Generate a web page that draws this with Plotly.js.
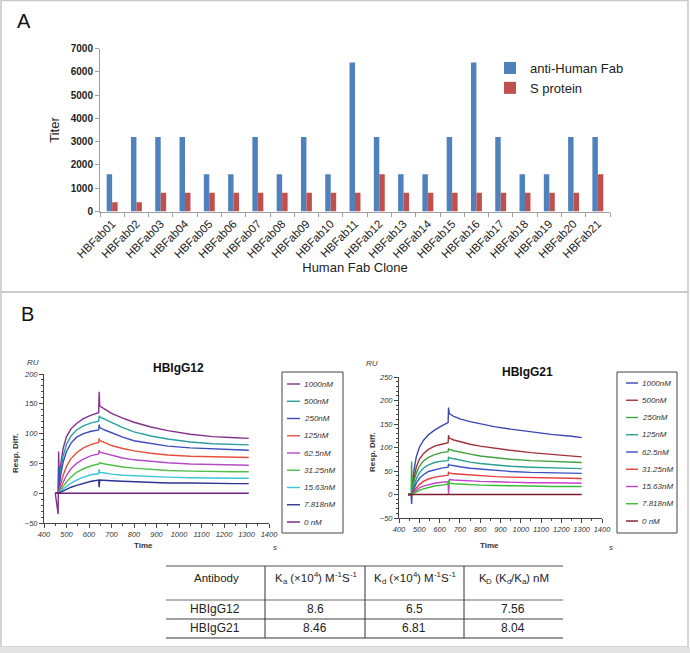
<!DOCTYPE html>
<html><head><meta charset="utf-8">
<script src="https://cdn.plot.ly/plotly-3.0.1.min.js"></script>
<style>html,body{margin:0;padding:0;background:#fff}#chart{width:690px;height:653px}</style>
</head><body><div id="chart"></div>
<script>
// ---------- Panel A data ----------
const clones = ['HBFab01','HBFab02','HBFab03','HBFab04','HBFab05','HBFab06','HBFab07','HBFab08','HBFab09','HBFab10','HBFab11','HBFab12','HBFab13','HBFab14','HBFab15','HBFab16','HBFab17','HBFab18','HBFab19','HBFab20','HBFab21'];
const antiHumanFab = [1600,3200,3200,3200,1600,1600,3200,1600,3200,1600,6400,3200,1600,1600,3200,6400,3200,1600,1600,3200,3200];
const sProtein = [400,400,800,800,800,800,800,800,800,800,800,1600,800,800,800,800,800,800,800,800,1600];

// ---------- Panel B data (sensorgrams) ----------
const concLabels = ['1000nM','500nM','250nM','125nM','62.5nM','31.25nM','15.63nM','7.818nM','0 nM'];
const time12 = [450,463,465,468,475,485,500,520,545,575,610,643,645,648,670,700,750,800,875,950,1050,1150,1250,1310];
const g12_1000 = [0,-35,70,20,50,75,95,108,117,125,131,135,170,146,141,134,126,119,111,105,99,95,93,92];
const g12_500  = [0,0,5,15,40,62,82,96,106,113,118,121,130,128,124,118,110,103,96,91,86,83,82,81];
const g12_250  = [0,0,45,12,32,52,70,84,94,100,104,106,115,110,106,101,94,88,83,79,76,74,73,72];
const g12_125  = [0,0,2,6,16,30,45,58,68,76,82,85,92,88,85,80,75,71,67,64,62,61,60,60];
const g12_62   = [0,0,1,4,10,19,30,41,50,57,63,66,72,69,67,63,59,56,53,51,49,48,47,47];
const g12_31   = [0,0,1,2,6,12,19,27,35,41,46,49,51,51,49,47,44,42,40,38,37,36,36,36];
const g12_15   = [0,0,1,2,4,8,12,17,22,27,31,33,40,35,34,32,30,29,28,27,26,25,25,25];
const g12_7    = [0,0,0,1,2,4,7,10,13,16,20,22,10,22,22,21,20,19,18,17,17,16,16,16];
const g12_0    = [0,0,0,0,0,0,0,0,0,0,0,0,0,0,0,0,0,0,0,0,0,0,0,0];

const time21 = [445,460,462,466,475,485,500,520,545,575,610,642,644,648,670,700,750,800,875,950,1050,1150,1250,1300];
const g21_1000 = [0,0,-20,20,55,80,100,115,127,137,146,153,185,172,166,161,155,150,144,139,133,128,124,121];
const g21_500  = [0,0,0,15,40,58,75,87,96,103,107,110,126,120,116,112,107,103,98,94,89,85,82,80];
const g21_250  = [0,0,70,10,30,45,60,71,79,85,89,91,97,96,93,90,86,82,78,75,72,70,69,68];
const g21_125  = [0,0,0,6,20,33,46,56,63,68,71,72,80,78,76,73,69,66,63,60,58,57,56,55];
const g21_62   = [0,0,0,4,14,24,34,42,49,53,56,58,65,63,61,59,56,54,51,49,47,46,45,45];
const g21_31   = [0,0,0,2,8,14,21,28,33,37,39,41,47,46,44,43,41,40,38,37,36,35,34,34];
const g21_15   = [0,0,0,1,5,9,14,18,21,24,26,27,0,32,31,30,29,28,27,26,25,25,24,24];
const g21_7    = [0,0,0,1,3,6,9,12,15,18,20,22,30,24,23,22,21,20,19,18,18,17,17,17];
const g21_0    = [0,0,0,0,0,0,0,0,0,0,0,0,0,0,0,0,0,0,0,0,0,0,0,0];

// ---------- Table data ----------
const antibodies = ['HBIgG12','HBIgG21'];
const kaVals = ['8.6','8.46'];
const kdVals = ['6.5','6.81'];
const KDVals = ['7.56','8.04'];
// header cells as text segments (sub / sup marked)
const tableHeader = [
  [{t:'Antibody'}],
  [{t:'K'},{t:'a',sub:1},{t:'\u00a0(×10'},{t:'4',sup:1},{t:')\u00a0M'},{t:'-1',sup:1},{t:'S'},{t:'-1',sup:1}],
  [{t:'K'},{t:'d',sub:1},{t:'\u00a0(×10'},{t:'4',sup:1},{t:')\u00a0M'},{t:'-1',sup:1},{t:'S'},{t:'-1',sup:1}],
  [{t:'K'},{t:'D',sub:1},{t:'\u00a0(K'},{t:'d',sub:1},{t:'/K'},{t:'a',sub:1},{t:')\u00a0nM'}]
];

// ---------- styles ----------
const colors12 = ['#84308e','#2a9fa0','#3c4cbc','#e8503e','#b44ac6','#4fbf4a','#3cc6d6','#2e3590','#6e2281'];
const colors21 = ['#3a48b0','#a3303a','#3ea33e','#2aa092','#3a50c8','#e63a3a','#c444c8','#33bf33','#7e1a2a'];
const series12 = [g12_1000,g12_500,g12_250,g12_125,g12_62,g12_31,g12_15,g12_7,g12_0];
const series21 = [g21_1000,g21_500,g21_250,g21_125,g21_62,g21_31,g21_15,g21_7,g21_0];

const W = 690, H = 653;
const px = x => x / W;
const py = y => 1 - y / H;
const FONT = 'Liberation Sans, Arial, sans-serif';

const traces = [
  {type:'bar', name:'anti-Human Fab', x:clones, y:antiHumanFab, marker:{color:'#4f81bd'}, xaxis:'x', yaxis:'y'},
  {type:'bar', name:'S protein', x:clones, y:sProtein, marker:{color:'#c0504d'}, xaxis:'x', yaxis:'y'}
];
series12.forEach((s,i)=>traces.push({type:'scatter', mode:'lines', x:time12, y:s, name:concLabels[i], showlegend:false,
  line:{color:colors12[i], width:1.4}, xaxis:'x2', yaxis:'y2'}));
series21.forEach((s,i)=>traces.push({type:'scatter', mode:'lines', x:time21, y:s, name:concLabels[i], showlegend:false,
  line:{color:colors21[i], width:1.4}, xaxis:'x3', yaxis:'y3'}));

const shapes = [];
const annotations = [];
const ann = (x,y,text,o={}) => annotations.push(Object.assign({xref:'paper',yref:'paper',x:px(x),y:py(y),text:text,showarrow:false,
  xanchor:'center',yanchor:'middle',font:{family:FONT,size:11,color:'#222'}},o));
const line = (x0,y0,x1,y1,color,width) => shapes.push({type:'line',xref:'paper',yref:'paper',x0:px(x0),y0:py(y0),x1:px(x1),y1:py(y1),line:{color:color,width:width}});
const italic = (size) => ({family:FONT,size:size,color:'#333',style:'italic'});
const bold = (size,color) => ({family:FONT,size:size,color:color||'#333',weight:'bold'});

// rich text (sub/sup) built from separately placed pieces
const mctx = document.createElement('canvas').getContext('2d');
function richText(cx, cy, segs, size){
  const small = size*0.68;
  const widths = segs.map(s=>{ mctx.font = ((s.sub||s.sup)?small:size)+'px "Liberation Sans"'; return mctx.measureText(s.t).width; });
  let x = cx - widths.reduce((a,b)=>a+b,0)/2;
  segs.forEach((s,i)=>{
    const dy = s.sub ? 3 : (s.sup ? -4 : 0);
    ann(x, cy+dy, s.t, {xanchor:'left', borderpad:0, font:{family:FONT,size:(s.sub||s.sup)?small:size,color:'#222'}});
    x += widths[i];
  });
}

// panel borders
shapes.push({type:'rect',xref:'paper',yref:'paper',x0:px(1),y0:py(292),x1:px(688),y1:py(0.5),line:{color:'#c8c8c8',width:1.5}});
shapes.push({type:'rect',xref:'paper',yref:'paper',x0:px(1),y0:py(647),x1:px(688),y1:py(292),line:{color:'#c8c8c8',width:1.5}});
shapes.push({type:'rect',xref:'paper',yref:'paper',x0:0,y0:0,x1:1,y1:py(647),line:{width:0},fillcolor:'#e4e4e4'});

// panel labels
ann(24,21,'A',{font:{family:FONT,size:20,color:'#111'}});
ann(27,314,'B',{font:{family:FONT,size:20,color:'#111'}});

// sensorgram decorations
ann(178,368,'HBIgG12',{font:bold(12,'#111')});
ann(527,372,'HBIgG21',{font:bold(12,'#111')});
ann(33,362,'RU',{font:italic(8)});
ann(372,363,'RU',{font:italic(8)});
ann(15,453,'Resp. Diff.',{textangle:-90,font:bold(8)});
ann(372,452,'Resp. Diff.',{textangle:-90,font:bold(8)});
ann(143,545,'Time',{font:bold(8)});
ann(489,545,'Time',{font:bold(8)});
ann(275,547,'s',{font:italic(8)});
ann(611,547,'s',{font:italic(8)});

// manual legend boxes for the sensorgrams
function legendBox(x0,x1,lx0,lx1,tx,yStart,cols){
  shapes.push({type:'rect',xref:'paper',yref:'paper',x0:px(x0),y0:py(533),x1:px(x1),y1:py(372),line:{color:'#444',width:1}});
  concLabels.forEach((c,i)=>{
    const yy = yStart + i*17.25;
    line(lx0,yy,lx1,yy,cols[i],1.4);
    ann(tx,yy,c,{xanchor:'left',font:italic(8)});
  });
}
legendBox(282,343,287,300,302,384,colors12);
legendBox(617,677,626,638,640,383,colors21);

// table
line(166,566,563,566,'#8a8a8a',1.5);
line(166,600,563,600,'#9a9a9a',1.5);
line(166,619,563,619,'#444',1);
line(166,638,563,638,'#777',1.5);
[265,365,464].forEach(x=>line(x,566,x,638,'#333',1));
const colCenters = [215,315,414,513];
tableHeader.forEach((h,i)=>richText(colCenters[i],578,h,11.5));
antibodies.forEach((a,r)=>{
  const yy = r===0 ? 609 : 628;
  [a,kaVals[r],kdVals[r],KDVals[r]].forEach((v,i)=>ann(colCenters[i],yy,v,{font:{family:FONT,size:12,color:'#222'}}));
});

const smallTick = {family:FONT,size:7.5,color:'#333',style:'italic'};
const layout = {
  width:W, height:H, margin:{l:0,r:0,t:0,b:0}, paper_bgcolor:'#fff', plot_bgcolor:'rgba(0,0,0,0)',
  barmode:'group', bargap:0.55, bargroupgap:0,
  showlegend:true,
  legend:{x:px(490),y:py(53),xanchor:'left',yanchor:'top',font:{family:FONT,size:13,color:'#222'},bgcolor:'rgba(0,0,0,0)',itemwidth:30,tracegroupgap:0},
  xaxis:{domain:[px(100),px(610)],anchor:'y',type:'category',tickangle:-45,tickson:'boundaries',ticks:'outside',ticklen:4,tickcolor:'#a0a0a0',
    showline:true,linecolor:'#a0a0a0',showgrid:false,tickfont:{family:FONT,size:11.5,color:'#222'},
    title:{text:'Human Fab Clone',font:{family:FONT,size:13,color:'#222'},standoff:2}},
  yaxis:{domain:[py(211.5),py(48.5)],anchor:'x',range:[0,7000],dtick:1000,showline:true,linecolor:'#a0a0a0',ticks:'outside',ticklen:4,tickcolor:'#a0a0a0',
    showgrid:false,zeroline:false,tickfont:{family:FONT,size:10,color:'#222',weight:'bold'},
    title:{text:'Titer',font:{family:FONT,size:13,color:'#222'},standoff:8}},
  xaxis2:{domain:[px(44),px(269)],anchor:'y2',range:[400,1400],dtick:100,tickangle:0,ticks:'outside',ticklen:4,tickcolor:'#444',showline:true,linecolor:'#444',linewidth:1,
    showgrid:false,zeroline:false,tickfont:smallTick,minor:{dtick:50,ticks:'outside',ticklen:2,tickcolor:'#444'}},
  yaxis2:{domain:[py(523),py(374)],anchor:'x2',range:[-50,200],dtick:50,ticks:'outside',ticklen:4,tickcolor:'#444',showline:true,linecolor:'#444',
    showgrid:false,zeroline:false,tickfont:smallTick,minor:{dtick:10,ticks:'outside',ticklen:2,tickcolor:'#444'}},
  xaxis3:{domain:[px(399),px(602)],anchor:'y3',range:[400,1400],dtick:100,tickangle:0,ticks:'outside',ticklen:4,tickcolor:'#444',showline:true,linecolor:'#444',
    showgrid:false,zeroline:false,tickfont:smallTick,minor:{dtick:50,ticks:'outside',ticklen:2,tickcolor:'#444'}},
  yaxis3:{domain:[py(518),py(377)],anchor:'x3',range:[-50,250],dtick:50,ticks:'outside',ticklen:4,tickcolor:'#444',showline:true,linecolor:'#444',
    showgrid:false,zeroline:false,tickfont:smallTick,minor:{dtick:10,ticks:'outside',ticklen:2,tickcolor:'#444'}},
  shapes:shapes, annotations:annotations
};
Plotly.newPlot('chart', traces, layout, {displayModeBar:false, staticPlot:true});
</script></body></html>
